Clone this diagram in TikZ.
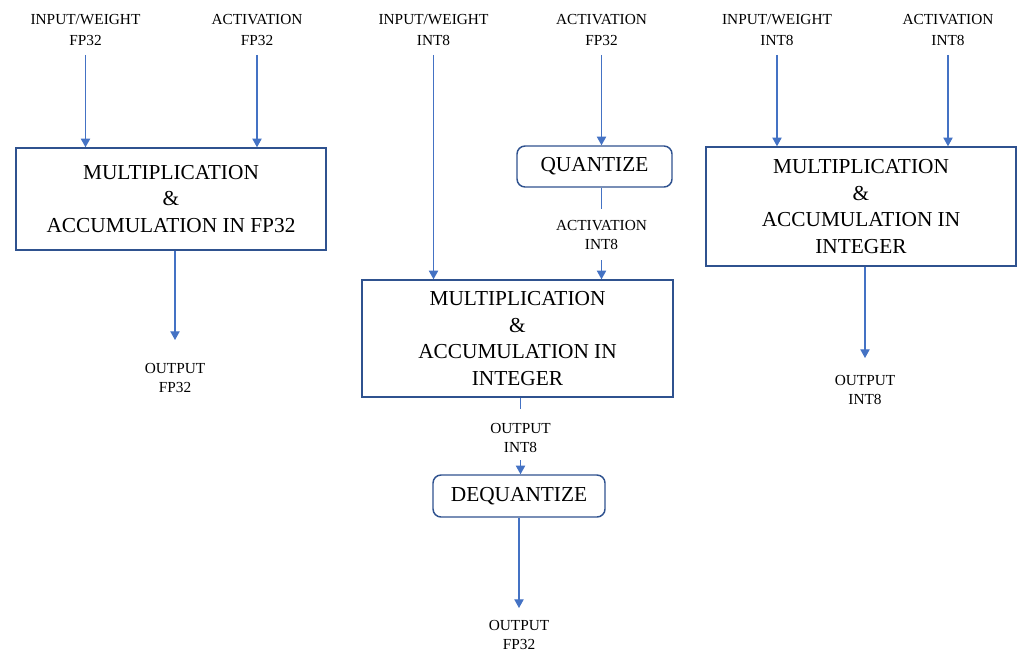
\documentclass[tikz,border=0pt]{standalone}
\usepackage{fontspec}
\setmainfont{Liberation Serif}
\usetikzlibrary{arrows.meta}
\definecolor{linkblue}{HTML}{4472C4}
\definecolor{edgeblue}{HTML}{2F528F}
\begin{document}
\begin{tikzpicture}[x=0.75pt,y=-0.75pt,
  tag/.style={inner sep=0pt, align=center, anchor=north, font=\fontsize{11.5}{14.5}\selectfont},
  toptag/.style={tag, font=\fontsize{11.5}{15.75}\selectfont},
  macbox/.style={draw=edgeblue, line width=1.1pt, inner sep=0pt, align=center, font=\fontsize{16}{20}\selectfont},
  opbox/.style={macbox, rounded corners=6pt},
  flow/.style={draw=linkblue, line width=0.8pt, -{Triangle[length=6.5pt,width=7pt]}},
  link/.style={draw=linkblue, line width=0.8pt}
]
\useasboundingbox (0,0) rectangle (1017,650);

% processing blocks
\node[macbox, minimum width=232.5pt, minimum height=76.5pt] (mac1) at (171,199)
  {MULTIPLICATION\\\&\\ACCUMULATION IN FP32};
\node[macbox, minimum width=233.25pt, minimum height=87.75pt] (mac2) at (517.5,338.5)
  {MULTIPLICATION\\\&\\ACCUMULATION IN\\INTEGER};
\node[macbox, minimum width=232.5pt, minimum height=89.25pt] (mac3) at (861,206.5)
  {MULTIPLICATION\\\&\\ACCUMULATION IN\\INTEGER};
\node[opbox, minimum width=116.25pt, minimum height=30.75pt] (quant) at (594.5,166.5) {QUANTIZE};
\node[opbox, minimum width=129pt, minimum height=31.5pt] (dequant) at (519,496) {DEQUANTIZE};

% input labels
\node[toptag] (in1) at (85.5,14) {INPUT/WEIGHT\\FP32};
\node[toptag] (act1) at (257,14) {ACTIVATION\\FP32};
\node[toptag] (in2) at (433.5,14) {INPUT/WEIGHT\\INT8};
\node[toptag] (act2) at (601.5,14) {ACTIVATION\\FP32};
\node[toptag] (in3) at (777,14) {INPUT/WEIGHT\\INT8};
\node[toptag] (act3) at (948,14) {ACTIVATION\\INT8};

% intermediate and output labels
\node[tag] (out1) at (175,363) {OUTPUT\\FP32};
\node[tag] (ain2) at (601.5,220) {ACTIVATION\\INT8};
\node[tag] (out2) at (520.5,423) {OUTPUT\\INT8};
\node[tag] (out3) at (519,620) {OUTPUT\\FP32};
\node[tag] (out4) at (865,375) {OUTPUT\\INT8};

% FP32 path
\draw[flow, shorten <=6.75pt] (in1.south) -- (in1.south |- mac1.north);
\draw[flow, shorten <=6.75pt] (act1.south) -- (act1.south |- mac1.north);
\draw[flow, shorten >=17.25pt] (mac1.south -| out1) -- (out1.north);

% quantize / dequantize path
\draw[flow, shorten <=6.75pt] (in2.south) -- (in2.south |- mac2.north);
\draw[flow, shorten <=6.75pt] (act2.south) -- (act2.south |- quant.north);
\draw[link, shorten >=8.25pt] (quant.south -| ain2) -- (ain2.north);
\draw[flow, shorten <=7.5pt] (ain2.south) -- (ain2.south |- mac2.north);
\draw[link, shorten >=10.5pt] (mac2.south -| out2) -- (out2.north);
\draw[flow, shorten <=5.25pt] (out2.south) -- (out2.south |- dequant.north);
\draw[flow, shorten >=9pt] (dequant.south -| out3) -- (out3.north);

% integer path
\draw[flow, shorten <=6.75pt] (in3.south) -- (in3.south |- mac3.north);
\draw[flow, shorten <=6.75pt] (act3.south) -- (act3.south |- mac3.north);
\draw[flow, shorten >=12.75pt] (mac3.south -| out4) -- (out4.north);
\end{tikzpicture}
\end{document}
